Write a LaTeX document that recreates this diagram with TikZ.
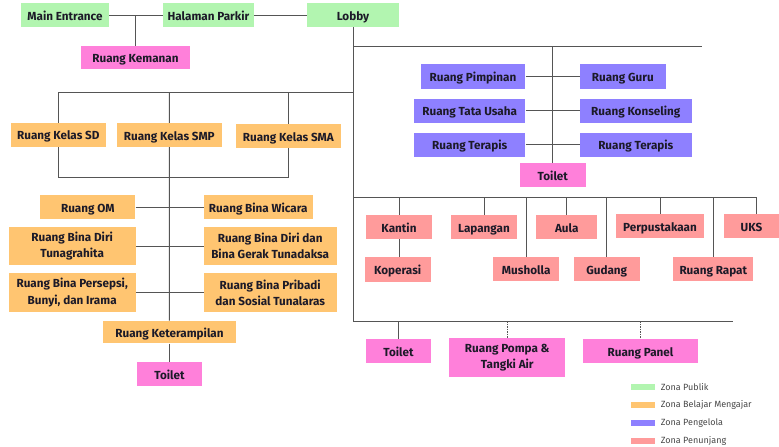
\documentclass[tikz,border=0pt]{standalone}
\usepackage{fontspec}
\setmainfont{Fira Sans}
\usetikzlibrary{backgrounds}
\definecolor{gz}{HTML}{B2F5B0}
\definecolor{pz}{HTML}{FF80DA}
\definecolor{oz}{HTML}{FFC571}
\definecolor{vz}{HTML}{8E80FF}
\definecolor{sz}{HTML}{FF9B9B}
\definecolor{ln}{HTML}{555555}
\definecolor{tx}{HTML}{1C1A28}
\tikzset{
  room/.style={rectangle, inner sep=0pt, text=tx, text height=10pt, text depth=0pt,
    font=\bfseries\fontsize{11.7}{16.5}\selectfont},
  roomtwo/.style={rectangle, inner sep=0pt, align=center, text=tx,
    font=\bfseries\fontsize{11.7}{16.5}\selectfont},
  wh/.style 2 args={minimum width=#1pt, minimum height=#2pt},
  conn/.style={draw=ln, line width=1pt},
  dconn/.style={conn, dash pattern=on 1.5pt off 1pt},
  swatch/.style={rectangle, inner sep=0pt, minimum width=23.7pt, minimum height=6pt},
  legtext/.style={anchor=west, inner sep=0pt, text=black!72, font=\fontsize{9}{10}\selectfont},
}
\begin{document}
\begin{tikzpicture}[x=1pt,y=-1pt]
\useasboundingbox (0,0) rectangle (779,447);
% public zone
\node[room, fill=gz, wh={88}{24}] (me) at (65,15) {Main Entrance};
\node[room, fill=gz, wh={91}{24}] (hp) at (208.5,15) {Halaman Parkir};
\node[room, fill=gz, wh={92}{24}] (lob) at (353,15) {Lobby};
\node[room, fill=pz, wh={109}{23}] (rkm) at (135.5,57.5) {Ruang Kemanan};
% admin zone
\node[room, fill=vz, wh={104.6}{24.7}] (pimp) at (473,76.3) {Ruang Pimpinan};
\node[room, fill=vz, wh={85.7}{24.7}] (guru) at (622.8,76.3) {Ruang Guru};
\node[room, fill=vz, wh={111.3}{24}] (tu) at (469.7,110.7) {Ruang Tata Usaha};
\node[room, fill=vz, wh={111.7}{24}] (kons) at (635.8,110.7) {Ruang Konseling};
\node[room, fill=vz, wh={111.3}{24}] (ter1) at (469.7,144.7) {Ruang Terapis};
\node[room, fill=vz, wh={111.7}{24}] (ter2) at (635.8,144.7) {Ruang Terapis};
\node[room, fill=pz, wh={65.7}{24}] (toA) at (552.8,175.3) {Toilet};
% support zone
\node[room, fill=sz, wh={66}{24}] (kantin) at (399,227) {Kantin};
\node[room, fill=sz, wh={66}{24.7}] (kop) at (397.7,269.3) {Koperasi};
\node[room, fill=sz, wh={66}{24}] (lap) at (484,227) {Lapangan};
\node[room, fill=sz, wh={65.7}{24.6}] (mus) at (526.2,269) {Musholla};
\node[room, fill=sz, wh={61}{24}] (aula) at (566.8,227) {Aula};
\node[room, fill=sz, wh={66}{24.6}] (gud) at (606.7,269) {Gudang};
\node[room, fill=sz, wh={88.3}{24.3}] (perp) at (660,226.2) {Perpustakaan};
\node[room, fill=sz, wh={80}{24.6}] (rap) at (713.3,269) {Ruang Rapat};
\node[room, fill=sz, wh={55}{24}] (uks) at (751.5,226.3) {UKS};
\node[room, fill=pz, wh={65.6}{24.3}] (toB) at (398.5,351.2) {Toilet};
\node[roomtwo, fill=pz, wh={116}{39}] (pom) at (507.3,357.8) {Ruang Pompa \&\\Tangki Air};
\node[room, fill=pz, wh={115.6}{24.3}] (pan) at (640.5,351.2) {Ruang Panel};
% learning zone
\node[room, fill=oz, wh={94.7}{24}] (ksd) at (58.3,134.7) {Ruang Kelas SD};
\node[room, fill=oz, wh={104.7}{24.3}] (ksmp) at (169.3,135.2) {Ruang Kelas SMP};
\node[room, fill=oz, wh={104.7}{24}] (ksma) at (288.3,136) {Ruang Kelas SMA};
\node[room, fill=oz, wh={95}{24}] (om) at (87.8,207) {Ruang OM};
\node[room, fill=oz, wh={109}{23.5}] (bw) at (258.2,207) {Ruang Bina Wicara};
\node[roomtwo, fill=oz, wh={127}{38.6}] (bdt) at (72.2,246) {Ruang Bina Diri\\Tunagrahita};
\node[roomtwo, fill=oz, wh={133}{38.6}] (bdg) at (270.2,246) {Ruang Bina Diri dan\\Bina Gerak Tunadaksa};
\node[roomtwo, fill=oz, wh={127}{38.7}] (bp) at (72.2,292.7) {Ruang Bina Persepsi,\\Bunyi, dan Irama};
\node[roomtwo, fill=oz, wh={133}{38.7}] (bps) at (270.2,292.7) {Ruang Bina Pribadi\\dan Sosial Tunalaras};
\node[room, fill=oz, wh={133}{22.6}] (kter) at (169.5,332) {Ruang Keterampilan};
\node[room, fill=pz, wh={65.6}{24.3}] (toL) at (169.5,374.2) {Toilet};
% legend
\node[swatch, fill=gz] (lg1) at (642.8,387.3) {};
\node[swatch, fill=oz] (lg2) at (642.8,405.3) {};
\node[swatch, fill=vz] (lg3) at (642.8,423.3) {};
\node[swatch, fill=sz] (lg4) at (642.8,441) {};
\node[legtext] (lt1) at (660.7,387.3) {Zona Publik};
\node[legtext] (lt2) at (660.7,405.3) {Zona Belajar Mengajar};
\node[legtext] (lt3) at (660.7,423.3) {Zona Pengelola};
\node[legtext] (lt4) at (660.7,441) {Zona Penunjang};
% junction points
\coordinate (tR) at (702,46);
\coordinate (mR) at (756.7,197.3);
\coordinate (bR) at (733.3,321);
\coordinate (lT) at (353,92.7);
\coordinate (lB) at (0,177);
\begin{pgfonlayer}{background}
\draw[conn] (me) -- (hp);
\draw[conn] (hp) -- (lob);
\draw[conn] (rkm) -- (rkm |- me);
\draw[conn] (lob) -- (lob |- bR) -- (bR);
\draw[conn] (lob |- tR) -- (tR);
\draw[conn] (toA) -- (toA |- tR);
\draw[conn] (pimp) -- (guru);
\draw[conn] (tu) -- (kons);
\draw[conn] (ter1) -- (ter2);
\draw[conn] (lob |- mR) -- (mR);
\draw[conn] (kantin |- mR) -- (kantin |- kop.center);
\draw[conn] (lap |- mR) -- (lap);
\draw[conn] (mus |- mR) -- (mus);
\draw[conn] (aula |- mR) -- (aula);
\draw[conn] (gud |- mR) -- (gud);
\draw[conn] (perp |- mR) -- (perp);
\draw[conn] (rap |- mR) -- (rap);
\draw[conn] (mR) -- (mR |- uks);
\draw[conn] (toB |- bR) -- (toB);
\draw[dconn] (pom |- bR) -- (pom.north);
\draw[dconn] (pan |- bR) -- (pan.north);
\draw[conn] (ksd |- lT) -- (lT);
\draw[conn] (ksd |- lT) -- (ksd |- lB) -- (ksma |- lB) -- (ksma |- lT);
\draw[conn] (ksmp |- lT) -- (kter);
\draw[conn] (kter) -- (toL);
\draw[conn] (om) -- (bw);
\draw[conn] (bdt) -- (bdg);
\draw[conn] (bp) -- (bps);
\end{pgfonlayer}
\end{tikzpicture}
\end{document}
